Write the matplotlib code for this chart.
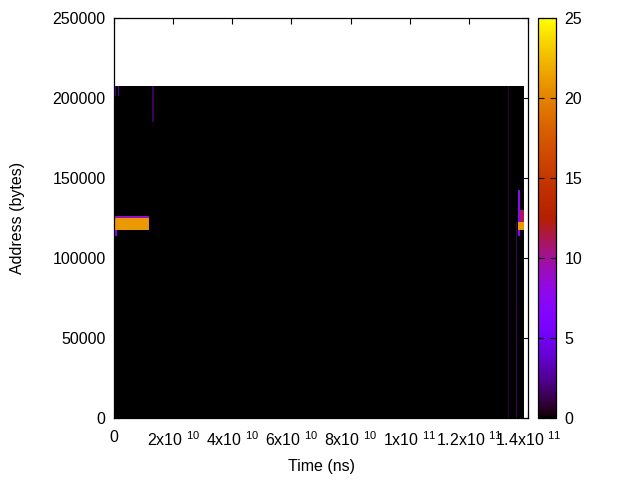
import matplotlib
matplotlib.use("Agg")
import matplotlib.pyplot as plt
import numpy as np
from matplotlib.ticker import FuncFormatter

plt.rcParams['font.family'] = ['Liberation Sans', 'DejaVu Sans']
plt.rcParams['mathtext.fontset'] = 'custom'
plt.rcParams['mathtext.rm'] = 'Liberation Sans'

# grid of the heatmap
t_step = 2.5e8
a_step = 1250
t_max = 1.386e11
a_max = 207500

# access blocks: time range (ns), address range (bytes), count
t_start = [0.0,    5e8,    1.5e9,  1.3e10, 5e8,     5e8,     5e8,     1.3335e11, 1.3545e11, 1.3610e11, 1.3655e11, 1.3715e11, 1.3685e11]
t_end   = [5e8,    7.5e8,  1.75e9, 1.35e10, 1.21e10, 1.21e10, 1.0e9,   1.3360e11, 1.3570e11, 1.3635e11, 1.3715e11, 1.3860e11, 1.3860e11]
a_start = [0,      200800, 200800, 184400, 118125,  125625,  114375,  0,         0,         0,         114375,    122500,    118000]
a_end   = [142500, 207500, 207500, 207500, 125625,  126875,  118125,  207500,    207500,    122000,    143125,    130600,    122500]
counts  = [1.3,    2.5,    2.5,    1.5,    21,      9,       7,       1.0,       1.8,       1.5,       7.5,       11,        21]

t_edges = np.arange(0, t_max + t_step, t_step)
a_edges = np.arange(0, a_max + a_step, a_step)
tc = (t_edges[:-1] + t_edges[1:]) / 2
ac = (a_edges[:-1] + a_edges[1:]) / 2
grid = np.zeros((len(ac), len(tc)))
for t0, t1, a0, a1, c in zip(t_start, t_end, a_start, a_end, counts):
    rows = (ac >= a0) & (ac < a1)
    cols = (tc >= t0) & (tc < t1)
    grid[np.ix_(rows, cols)] = c

fig = plt.figure(figsize=(6.4, 4.8), dpi=100)
ax = fig.add_axes([114/640, 62/480, 414/640, 400/480])
cax = fig.add_axes([538/640, 62/480, 18/640, 400/480])

mesh = ax.pcolormesh(t_edges, a_edges, grid, cmap='gnuplot', vmin=0, vmax=25,
                     shading='flat', rasterized=True)
ax.set_xlim(0, 1.4e11)
ax.set_ylim(0, 250000)
ax.set_xticks(np.arange(0, 1.41e11, 2e10))
ax.set_yticks(np.arange(0, 250001, 50000))


def sci(v, pos):
    if v == 0:
        return '0'
    e = int(np.floor(np.log10(v) + 1e-9))
    m = v / 10 ** e
    ms = ('%g' % m)
    return ms + 'x10 $^{\\mathregular{%d}}$' % e


ax.xaxis.set_major_formatter(FuncFormatter(sci))
ax.tick_params(direction='in', top=True, right=True, length=4.5, width=0.8,
               labelsize=11.5, pad=6, colors='black')
ax.tick_params(axis='x', pad=9)
ax.set_xlabel('Time (ns)', fontsize=11.5, labelpad=7)
ax.set_ylabel('Address (bytes)', fontsize=11.5, labelpad=20)
for s in ax.spines.values():
    s.set_linewidth(0.9)

cb = fig.colorbar(mesh, cax=cax, ticks=[0, 5, 10, 15, 20, 25])
cb.outline.set_linewidth(0.9)
cax.tick_params(direction='in', left=True, right=True, length=4, width=0.8,
                labelsize=11.5, pad=6)

fig.savefig('out.png', dpi=100)
